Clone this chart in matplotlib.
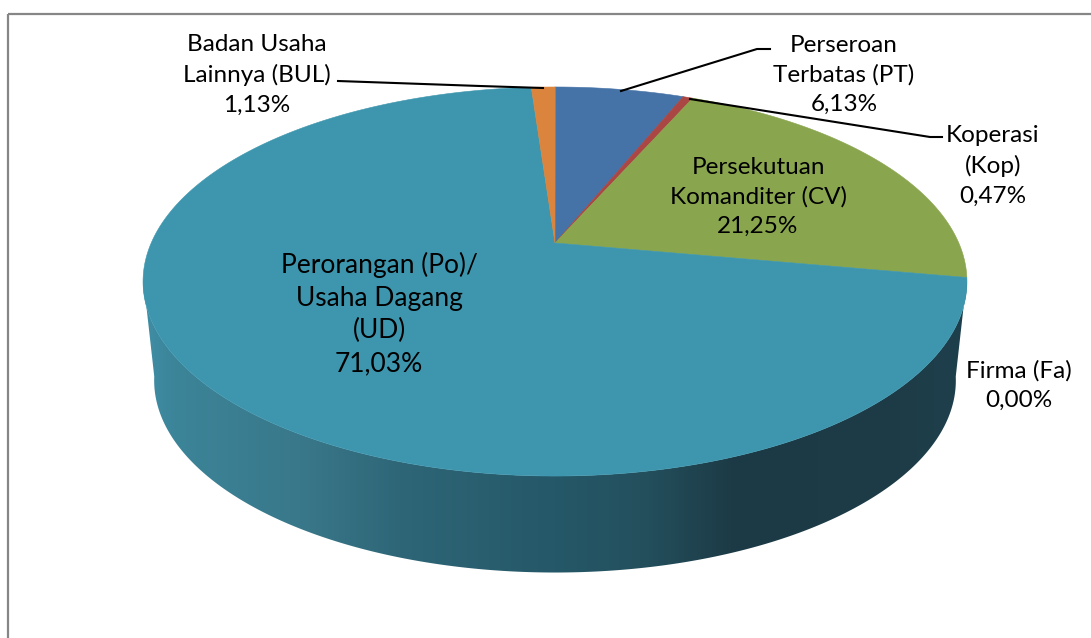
import numpy as np
import matplotlib
matplotlib.use("Agg")
import matplotlib.pyplot as plt
from matplotlib.patches import Polygon

plt.rcParams['font.family'] = ['Lato', 'DejaVu Sans']

# shares clockwise from 12 o'clock
categories = ["Perseroan Terbatas (PT)", "Koperasi (Kop)", "Persekutuan Komanditer (CV)",
              "Firma (Fa)", "Perorangan (Po)/ Usaha Dagang (UD)", "Badan Usaha Lainnya (BUL)"]
values = [6.13, 0.47, 21.25, 0.00, 71.03, 1.13]
colors = ["#4572A7", "#AA4643", "#89A54E", "#80699B", "#3D96AE", "#DB843D"]

# side wall shade of the big slice, from left to right
side_x = [143, 175, 300, 400, 555, 640, 735, 900, 968]
side_r = [0x3F, 0x3C, 0x39, 0x2E, 0x25, 0x24, 0x1C, 0x1D, 0x1E]
side_g = [0x8E, 0x84, 0x78, 0x66, 0x58, 0x50, 0x3A, 0x3C, 0x40]
side_b = [0xA6, 0x98, 0x8A, 0x77, 0x68, 0x5E, 0x45, 0x48, 0x4C]

fig = plt.figure(figsize=(10.91, 6.38), dpi=100)
ax = fig.add_axes([0, 0, 1, 1])
ax.axis("off")


def project(t, sx=1.0, sy=1.0, cy=243.0):
    # excel style perspective, t is clockwise from the top in radians
    x = np.sin(t)
    y = np.cos(t)
    d = 1 + 0.198 * y
    return 555 + sx * 403.8 * x / d, cy - sy * 186.9 * y / d


# frame, open on the right and at the bottom
ax.plot([8, 8], [638, 14], color="#868686", lw=1.6, solid_capstyle="butt")
ax.plot([8, 1091], [14, 14], color="#868686", lw=1.6, solid_capstyle="butt")

edges = np.cumsum([0] + values) / 100 * 2 * np.pi

# side wall, only the big slice shows
ts = np.linspace(edges[4], 2 * np.pi - edges[4], 400)
tx, ty = project(ts)
bx, by = project(ts, 0.973, 0.987, 342.5)
wall = Polygon(np.c_[np.r_[tx, bx[::-1]], np.r_[ty, by[::-1]]], closed=True, transform=ax.transData,
               fc="none", ec="none")
ax.add_patch(wall)
xs = np.arange(143, 969)
shade = np.stack([np.interp(xs, side_x, side_r), np.interp(xs, side_x, side_g),
                  np.interp(xs, side_x, side_b)], axis=-1)[None, :, :] / 255
im = ax.imshow(shade, extent=(143, 969, 590, 240), aspect="auto", interpolation="bilinear")
im.set_clip_path(wall)

ax.set_xlim(0, 1091)
ax.set_ylim(638, 0)

# top face
for i in range(len(values)):
    if values[i] == 0:
        continue
    t = np.linspace(edges[i], edges[i + 1], 300)
    px, py = project(t)
    ax.fill(np.r_[555, px], np.r_[243, py], color=colors[i], lw=0.4)

# leader lines
ax.plot([338, 480, 543], [81, 86, 88], color="black", lw=1.5)
ax.plot([621, 757, 770], [91, 49, 49], color="black", lw=1.5)
ax.plot([690, 930, 942], [99, 137, 137], color="black", lw=1.5)

fs = 17.5
ls = 1.49
ax.text(257, 75, "Badan Usaha\nLainnya (BUL)\n1,13%", ha="center", va="center", fontsize=fs, linespacing=ls)
ax.text(844, 75, "Perseroan\nTerbatas (PT)\n6,13%", ha="center", va="center", fontsize=fs, linespacing=ls)
ax.text(993, 166, "Koperasi\n(Kop)\n0,47%", ha="center", va="center", fontsize=fs, linespacing=ls)
ax.text(758, 197, "Persekutuan\nKomanditer (CV)\n21,25%", ha="center", va="center", fontsize=fs, linespacing=ls)
ax.text(1019, 385, "Firma (Fa)\n0,00%", ha="center", va="center", fontsize=fs, linespacing=ls)
ax.text(379, 314, "Perorangan (Po)/\nUsaha Dagang\n(UD)\n71,03%", ha="center", va="center", fontsize=fs + 1.5,
        linespacing=1.38)

fig.savefig("out.png", dpi=100)
